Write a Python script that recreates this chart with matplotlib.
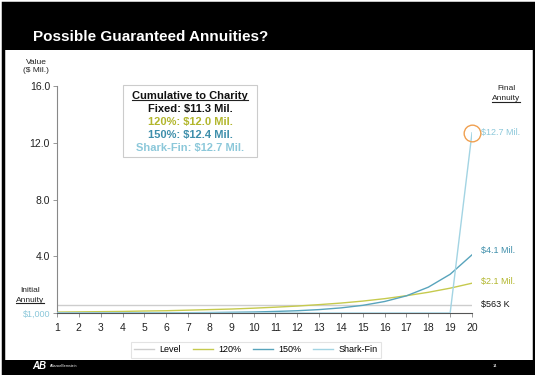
import matplotlib.pyplot as plt
from matplotlib.patches import Rectangle
from matplotlib.lines import Line2D

plt.rcParams['font.family'] = ['Liberation Sans', 'DejaVu Sans']

W, H = 535, 375

# 데이터 (단위: $ Mil.)
years = list(range(1, 21))
level = [0.563] * 20
pct120 = [0.066, 0.08, 0.095, 0.11, 0.14, 0.16, 0.20, 0.24, 0.28, 0.34,
          0.41, 0.49, 0.59, 0.70, 0.84, 1.01, 1.22, 1.46, 1.75, 2.1]
pct150 = [0.001, 0.001, 0.002, 0.004, 0.01, 0.014, 0.02, 0.03, 0.05, 0.07,
          0.11, 0.16, 0.24, 0.36, 0.54, 0.81, 1.21, 1.82, 2.73, 4.1]
shark = [0.001] * 19 + [12.7]

series_names = ['Level', '120%', '150%', 'Shark-Fin']
colors = ['#cdcdcd', '#c6ca4e', '#58a4bc', '#a3d4e3']
text_colors = ['#111111', '#b2b62c', '#3f8fab', '#8cc8da']
charity = ['Fixed: $11.3 Mil.', '120%: $12.0 Mil.', '150%: $12.4 Mil.', 'Shark-Fin: $12.7 Mil.']
end_labels = ['$563 K', '$2.1 Mil.', '$4.1 Mil.', '$12.7 Mil.']
y_ticks = [4.0, 8.0, 12.0, 16.0]


def fx(x):
    return x / W


def fy(y):
    return 1 - y / H


fig = plt.figure(figsize=(W / 100, H / 100), dpi=100)
fig.patch.set_facecolor('white')

# 프레임 / 헤더 / 하단 바
fig.patches.append(Rectangle((fx(3), fy(373)), fx(531), 370 / H, transform=fig.transFigure,
                             facecolor='none', edgecolor='black', linewidth=2.5))
fig.patches.append(Rectangle((fx(3), fy(50)), fx(531), 46 / H, transform=fig.transFigure,
                             facecolor='black', edgecolor='none'))
fig.patches.append(Rectangle((fx(3), fy(373)), fx(531), 13 / H, transform=fig.transFigure,
                             facecolor='black', edgecolor='none'))
fig.text(fx(33), fy(37), 'Possible Guaranteed Annuities?', color='white', fontsize=11,
         fontweight='bold', va='center', ha='left')
fig.text(fx(32), fy(366), 'AB', color='white', fontsize=7, fontweight='bold',
         style='italic', va='center')
fig.text(fx(50), fy(366), 'AllianceBernstein', color='white', fontsize=2.5, va='center')
fig.text(fx(493), fy(366), '14', color='white', fontsize=3, va='center')

ax = fig.add_axes([fx(57), fy(313), (472 - 57) / W, (313 - 86) / H])
ax.plot(years, level, color=colors[0], linewidth=1.0, label=series_names[0])
ax.plot(years, pct120, color=colors[1], linewidth=1.0, label=series_names[1])
ax.plot(years, pct150, color=colors[2], linewidth=1.0, label=series_names[2])
ax.plot(years, shark, color=colors[3], linewidth=1.0, label=series_names[3], zorder=5)

ax.set_xlim(1, 20)
ax.set_ylim(0, 16)
ax.set_xticks(years)
ax.set_xticklabels([str(y) for y in years], fontsize=7.5, color='#222222')
ax.set_yticks([0.001] + y_ticks)
ax.set_yticklabels(['$1,000'] + ['%.1f' % v for v in y_ticks], fontsize=7.5, color='#222222')
ax.get_yticklabels()[0].set_color('#8cc8da')
ax.get_yticklabels()[0].set_fontsize(6.5)
ax.tick_params(axis='both', length=3, width=0.6, color='#888888', pad=2)
ax.tick_params(axis='x', pad=4)
for s in ['top', 'right']:
    ax.spines[s].set_visible(False)
ax.spines['left'].set_color('#888888')
ax.spines['bottom'].set_color('#555555')
ax.spines['left'].set_linewidth(0.8)
ax.spines['bottom'].set_linewidth(0.8)

# 마지막 값 표시
ax.plot([20], [shark[-1]], marker='o', markersize=12, markerfacecolor='none',
        markeredgecolor='#f0a050', markeredgewidth=1.0, clip_on=False, zorder=6)
ax.text(20.4, shark[-1], end_labels[3], color=text_colors[3], fontsize=6.5, va='center')
ax.text(20.4, pct150[-1] + 0.3, end_labels[2], color=text_colors[2], fontsize=6.5, va='center')
ax.text(20.4, pct120[-1] + 0.15, end_labels[1], color=text_colors[1], fontsize=6.5, va='center')
ax.text(20.4, level[-1] + 0.05, end_labels[0], color='#111111', fontsize=6.5, va='center')

# 텍스트 박스
fig.patches.append(Rectangle((fx(123), fy(157)), (257 - 123) / W, (157 - 85) / H,
                             transform=fig.transFigure, facecolor='white',
                             edgecolor='#cccccc', linewidth=0.8, zorder=3))
underlined = []
t = fig.text(fx(190), fy(96), 'Cumulative to Charity', fontsize=8, fontweight='bold',
             ha='center', va='center', color='#111111', zorder=4)
underlined.append(t)
for i, line in enumerate(charity):
    fig.text(fx(190), fy(109 + 13 * i), line, fontsize=8, fontweight='bold',
             ha='center', va='center', color=text_colors[i], zorder=4)

fig.text(fx(36), fy(62), 'Value', fontsize=6, ha='center', va='center', color='#222222')
fig.text(fx(36), fy(71), '($ Mil.)', fontsize=6, ha='center', va='center', color='#222222')
fig.text(fx(30), fy(290), 'Initial', fontsize=6, ha='center', va='center', color='#222222')
t = fig.text(fx(30), fy(300), 'Annuity', fontsize=6, ha='center', va='center', color='#222222')
underlined.append(t)
fig.text(fx(506), fy(89), 'Final', fontsize=6, ha='center', va='center', color='#222222')
t = fig.text(fx(506), fy(99), 'Annuity', fontsize=6, ha='center', va='center', color='#222222')
underlined.append(t)

# 밑줄
fig.canvas.draw()
r = fig.canvas.get_renderer()
for t in underlined:
    bb = t.get_window_extent(r).transformed(fig.transFigure.inverted())
    fig.lines.append(Line2D([bb.x0, bb.x1], [bb.y0 + 0.002, bb.y0 + 0.002],
                            transform=fig.transFigure, color='#222222', linewidth=0.8,
                            zorder=5))

leg = fig.legend(loc='center', bbox_to_anchor=(fx(256), fy(350)), ncol=4, fontsize=6.5,
                 frameon=True, handlelength=2.2, columnspacing=1.3, handletextpad=0.6,
                 borderpad=0.4, fancybox=False, edgecolor='#dddddd')
leg.get_frame().set_linewidth(0.8)

fig.savefig('out.png', dpi=100)
